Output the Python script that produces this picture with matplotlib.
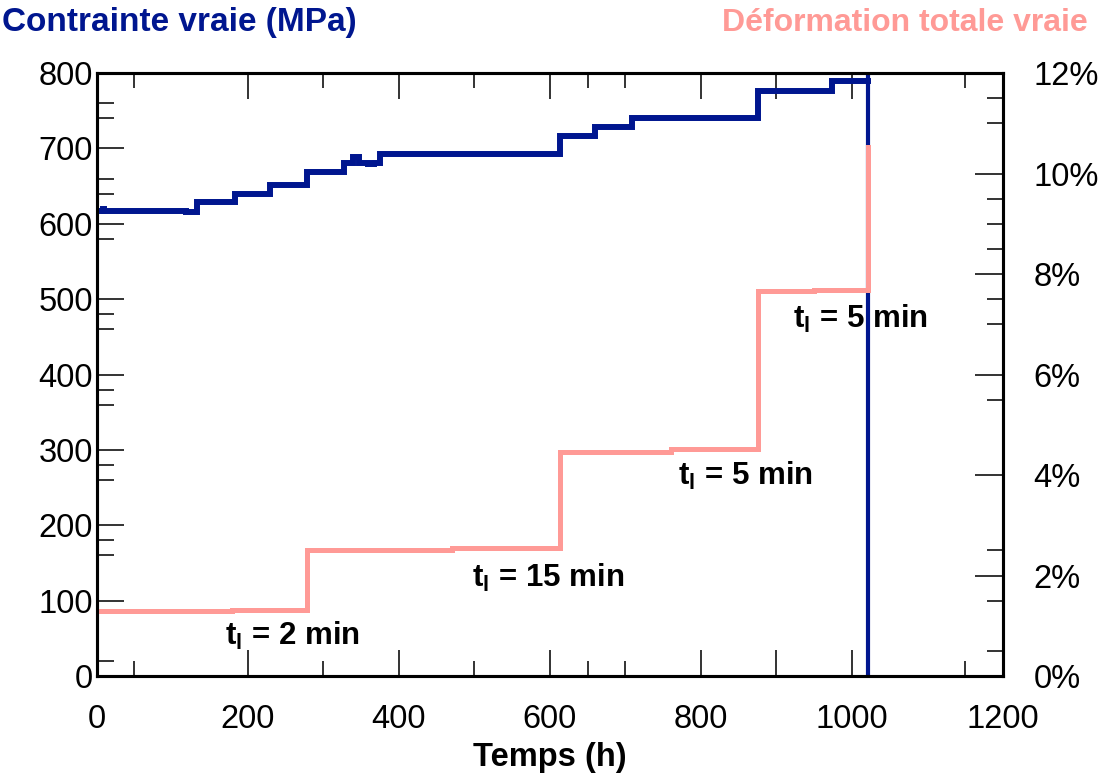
import matplotlib
matplotlib.use("Agg")
import matplotlib.pyplot as plt
from matplotlib.ticker import FixedLocator

plt.rcParams['font.family'] = ['Liberation Sans', 'DejaVu Sans']
plt.rcParams['mathtext.fontset'] = 'custom'
plt.rcParams['mathtext.rm'] = 'Liberation Sans:bold'
plt.rcParams['mathtext.it'] = 'Liberation Sans:bold'
plt.rcParams['mathtext.bf'] = 'Liberation Sans:bold'

# ---- data ----
# true stress (MPa) vs time (h), stepwise
stress_t = [0, 8, 10, 118, 133, 183, 230, 279, 327, 340, 348, 360, 368, 375, 614, 660, 709, 876, 973, 1021]
stress_v = [617, 619, 617, 615, 629, 640, 651, 668, 681, 689, 681, 679, 681, 692, 717, 729, 740, 776, 789, 789]
# rupture (vertical drop of stress curve)
rupture_t = [1021, 1021]
rupture_v = [802, 0]

# true total strain (%) vs time (h), stepwise
strain_t = [0, 180, 278, 470, 614, 760, 876, 950, 1021, 1021]
strain_v = [1.30, 1.32, 2.51, 2.54, 4.46, 4.51, 7.66, 7.69, 7.69, 10.52]

x_tick_vals = [0, 200, 400, 600, 800, 900, 1000, 1200]
x_tick_labels = ['0', '200', '400', '600', '800', '', '1000', '1200']
x_minor = [50, 300, 500, 650, 700, 1150]

y_tick_vals = [0, 100, 200, 300, 400, 500, 600, 700, 800]
y_tick_labels = ['0', '100', '200', '300', '400', '500', '600', '700', '800']
y_minor = [20, 160, 180, 260, 280, 360, 380, 460, 480, 580, 640, 660, 740, 760]

y2_tick_vals = [0, 2, 4, 6, 8, 10, 12]
y2_tick_labels = ['0%', '2%', '4%', '6%', '8%', '10%', '12%']
y2_minor = [0.5, 1.5, 2.5, 5.5, 7, 7.5, 8.5, 9, 9.5, 11, 11.5]

annotations = [
    (170, 41, '2'),
    (497, 118, '15'),
    (770, 253, '5'),
    (922, 462, '5'),
]

# ---- style ----
NAVY = '#00168F'
PINK = '#FF9A96'
W, H = 1105, 779
fig = plt.figure(figsize=(W / 100, H / 100), dpi=100)
ax = fig.add_axes([96.5 / W, 1 - 676 / H, (1003 - 96.5) / W, (676 - 73) / H])
ax2 = ax.twinx()

ax.step(stress_t, stress_v, where='post', color=NAVY, lw=4.3, solid_joinstyle='miter')
ax.plot(rupture_t, rupture_v, color=NAVY, lw=3.0)
ax2.step(strain_t, strain_v, where='post', color=PINK, lw=3.6, solid_joinstyle='miter')

ax.set_xlim(0, 1200)
ax.set_ylim(0, 800)
ax2.set_ylim(0, 12)

ax.xaxis.set_major_locator(FixedLocator(x_tick_vals))
ax.set_xticklabels(x_tick_labels)
ax.xaxis.set_minor_locator(FixedLocator(x_minor))
ax.yaxis.set_major_locator(FixedLocator(y_tick_vals))
ax.set_yticklabels(y_tick_labels)
ax.yaxis.set_minor_locator(FixedLocator(y_minor))
ax2.yaxis.set_major_locator(FixedLocator(y2_tick_vals))
ax2.set_yticklabels(y2_tick_labels)
ax2.yaxis.set_minor_locator(FixedLocator(y2_minor))

tick_col = '#333333'
ax.tick_params(axis='x', which='both', direction='in', top=True, bottom=True,
               color=tick_col, width=1.4, labelsize=23.5, pad=20)
ax.tick_params(axis='x', which='major', length=19)
ax.tick_params(axis='x', which='minor', length=11)
ax.tick_params(axis='y', which='both', direction='in', left=True, right=False,
               color=tick_col, width=1.4, labelsize=23.5, pad=2.5)
ax.tick_params(axis='y', which='major', length=19.5)
ax.tick_params(axis='y', which='minor', length=12)
ax2.tick_params(axis='y', which='both', direction='in', right=True, left=False,
                color=tick_col, width=1.4, labelsize=23.5, pad=22)
ax2.tick_params(axis='y', which='major', length=20)
ax2.tick_params(axis='y', which='minor', length=11.5)

for a in (ax, ax2):
    for s in a.spines.values():
        s.set_linewidth(2.2)
        s.set_color('black')

ax.set_xlabel('Temps (h)', fontsize=23.5, fontweight='bold', labelpad=5)

for x, y, v in annotations:
    ax.text(x, y, r't$_{\mathbf{l}}$ = ' + v + ' min', fontsize=22.5, fontweight='bold',
            ha='left', va='baseline', color='black', zorder=5)

fig.text(2 / W, 1 - 23 / H, 'Contrainte vraie (MPa)', fontsize=24, fontweight='bold',
         color=NAVY, ha='left', va='center')
fig.text(1088 / W, 1 - 23 / H, 'Déformation totale vraie', fontsize=23, fontweight='bold',
         color=PINK, ha='right', va='center')

fig.savefig('out.png', dpi=100)
